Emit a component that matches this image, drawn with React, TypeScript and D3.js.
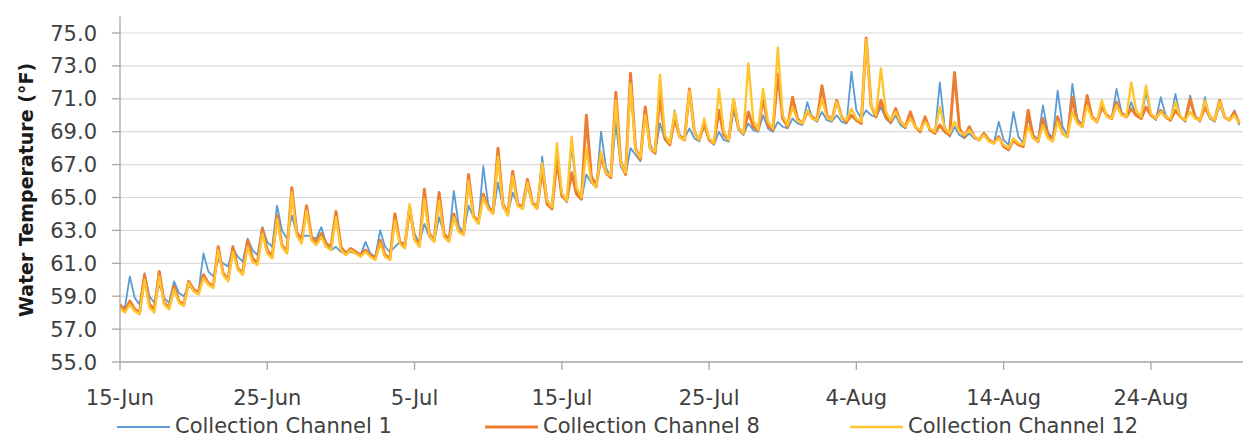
import React from "react";
import * as d3 from "d3";

const START = "2015-06-15";
const END = "2015-08-31";
const STEP_HOURS = 8;

const yTicks = [55, 57, 59, 61, 63, 65, 67, 69, 71, 73, 75];
const xTickDates = ["2015-06-15", "2015-06-25", "2015-07-05", "2015-07-15", "2015-07-25", "2015-08-04", "2015-08-14", "2015-08-24"];
const seriesNames = ["Collection Channel 1", "Collection Channel 8", "Collection Channel 12"];
const yTitle = "Water Temperature (°F)";

// readings every 8 hours from 15-Jun 00:00
const ch1 = [
  58.4, 58.3, 60.2, 58.9, 58.5, 60.4, 59.0, 58.6, 59.7, 58.9, 58.6, 59.9, 59.2, 59.0, 59.6,
  59.4, 59.3, 61.6, 60.5, 60.2, 61.2, 61.0, 60.8, 61.9, 61.4, 61.1, 62.5, 61.8, 61.5, 63.2,
  62.3, 62.0, 64.5, 63.0, 62.5, 63.9, 62.8, 62.6, 62.7, 62.6, 62.5, 63.2, 62.2, 61.8, 62.0,
  61.7, 61.6, 61.7, 61.6, 61.5, 62.3, 61.6, 61.4, 63.0, 62.0, 61.7, 62.0, 62.3, 62.2, 64.5,
  62.8, 62.2, 63.4, 62.6, 62.3, 63.8, 62.8, 62.5, 65.4, 63.3, 62.8, 64.5, 63.8, 63.4, 66.9,
  64.6, 64.0, 65.9, 64.4, 64.0, 65.3, 64.6, 64.3, 65.7, 64.6, 64.3, 67.5, 64.9, 64.3, 67.9,
  65.3, 64.7, 68.2, 65.4, 64.9, 66.4, 65.9, 65.6, 69.0, 66.8, 66.2, 69.5, 66.9, 66.4, 68.0,
  67.6, 67.2, 70.4, 68.2, 67.7, 69.5, 68.5, 68.2, 70.3, 68.8, 68.6, 69.2, 68.6, 68.4, 69.4,
  68.5, 68.2, 69.0, 68.5, 68.4, 70.3, 69.1, 68.8, 69.5, 69.1, 69.0, 70.0, 69.2, 69.0, 69.6,
  69.3, 69.2, 69.8, 69.5, 69.4, 70.8, 69.8, 69.6, 70.2, 69.7, 69.6, 70.0, 69.6, 69.5, 72.65,
  70.3, 69.8, 70.3, 70.0, 69.9, 70.5, 69.8, 69.5, 70.0, 69.4, 69.2, 70.2, 69.3, 69.0, 69.8,
  69.1, 68.9, 72.0, 69.3, 68.7, 69.3, 68.8, 68.6, 68.9, 68.6, 68.5, 68.8, 68.4, 68.3, 69.6,
  68.5, 68.2, 70.2, 68.7, 68.3, 69.8, 68.8, 68.5, 70.6, 69.0, 68.6, 71.5, 69.3, 68.8, 71.9,
  69.8, 69.4, 70.8, 69.9, 69.7, 70.5, 70.0, 69.8, 71.6, 70.2, 69.9, 70.8, 70.0, 69.8, 71.4,
  70.0, 69.7, 71.1, 70.0, 69.7, 71.3, 69.9, 69.6, 71.2, 69.9, 69.6, 71.1, 69.8, 69.6, 70.6,
  69.9, 69.7, 70.3, 69.4,
];
const ch8 = [
  58.5, 58.1, 58.7, 58.2, 58.0, 60.3, 58.5, 58.2, 60.5, 58.6, 58.3, 59.6, 58.7, 58.5, 59.9,
  59.4, 59.2, 60.3, 59.8, 59.6, 62.0, 60.4, 60.0, 62.0, 60.7, 60.4, 62.4, 61.3, 61.0, 63.1,
  61.8, 61.4, 63.9, 62.1, 61.7, 65.6, 62.9, 62.4, 64.5, 62.6, 62.3, 62.8, 62.2, 62.0, 64.15,
  62.0, 61.6, 61.9, 61.7, 61.5, 61.8, 61.5, 61.3, 62.4, 61.5, 61.3, 64.0, 62.3, 62.0, 64.4,
  62.5, 62.1, 65.5, 62.8, 62.4, 65.3, 62.8, 62.4, 64.0, 63.0, 62.8, 66.4, 63.9, 63.5, 65.2,
  64.4, 64.1, 68.0, 64.6, 64.0, 66.6, 64.6, 64.4, 66.1, 64.7, 64.4, 66.7, 64.6, 64.3, 67.3,
  65.1, 64.8, 66.5, 65.2, 64.9, 70.0, 66.3, 65.7, 67.5, 66.5, 66.2, 71.4, 67.2, 66.4, 72.55,
  68.0, 67.3, 70.5, 68.0, 67.7, 71.3, 68.6, 68.2, 69.8, 68.7, 68.5, 71.6, 69.0, 68.5, 69.5,
  68.5, 68.3, 70.3, 68.8, 68.5, 70.9, 69.2, 68.9, 70.2, 69.3, 69.1, 71.1, 69.4, 69.1, 72.5,
  69.8, 69.3, 71.1, 69.8, 69.5, 70.2, 69.9, 69.7, 71.8, 70.0, 69.7, 70.9, 69.9, 69.6, 70.0,
  69.7, 69.5, 74.7, 70.6, 69.9, 70.9, 69.9, 69.6, 70.4, 69.6, 69.3, 70.2, 69.3, 69.0, 69.9,
  69.1, 68.9, 69.4, 69.0, 68.8, 72.6, 69.2, 68.7, 69.3, 68.7, 68.5, 68.9, 68.5, 68.3, 68.7,
  68.1, 67.9, 68.5, 68.2, 68.1, 70.3, 68.7, 68.4, 69.8, 68.8, 68.5, 69.9, 68.9, 68.7, 71.1,
  69.6, 69.3, 71.2, 69.9, 69.6, 70.5, 70.0, 69.8, 70.8, 70.1, 69.9, 70.4, 70.0, 69.8, 70.5,
  70.0, 69.8, 70.3, 69.9, 69.7, 70.3, 69.9, 69.7, 71.0, 69.9, 69.7, 70.5, 69.9, 69.7, 70.9,
  69.9, 69.7, 70.2, 69.5,
];
const ch12 = [
  58.3, 58.0, 58.5, 58.1, 57.9, 60.0, 58.3, 58.0, 60.2, 58.5, 58.2, 59.4, 58.6, 58.4, 59.8,
  59.3, 59.1, 60.1, 59.7, 59.5, 61.8, 60.3, 59.9, 61.7, 60.6, 60.3, 62.0, 61.1, 60.9, 62.8,
  61.6, 61.3, 63.7, 62.0, 61.6, 65.3, 62.7, 62.2, 64.2, 62.4, 62.1, 62.6, 62.0, 61.8, 63.8,
  61.8, 61.5, 61.8, 61.6, 61.4, 61.7, 61.4, 61.2, 62.2, 61.4, 61.2, 63.6, 62.2, 61.9, 64.6,
  62.4, 62.0, 64.9, 62.7, 62.3, 64.8, 62.6, 62.3, 63.8, 62.9, 62.7, 66.0, 63.8, 63.4, 65.0,
  64.3, 64.0, 67.5, 64.5, 63.9, 66.3, 64.5, 64.3, 65.9, 64.6, 64.3, 67.1, 64.8, 64.4, 68.3,
  65.3, 64.8, 68.7, 65.6, 65.0, 68.0, 66.0, 65.6, 67.8, 66.5, 66.3, 70.9, 67.1, 66.5, 71.9,
  67.9, 67.4, 70.0, 68.0, 67.8, 72.45, 68.8, 68.3, 70.2, 68.7, 68.5, 71.5, 69.0, 68.5, 69.8,
  68.6, 68.3, 71.6, 69.0, 68.5, 71.0, 69.2, 68.9, 73.15, 69.7, 69.1, 71.6, 69.6, 69.2, 74.1,
  70.0, 69.4, 70.5, 69.7, 69.5, 70.3, 69.8, 69.7, 71.0, 69.9, 69.7, 70.8, 69.9, 69.7, 70.4,
  69.8, 69.6, 74.6, 70.6, 70.0, 72.85, 70.2, 69.7, 70.2, 69.6, 69.3, 69.8, 69.3, 69.1, 69.6,
  69.2, 69.0, 70.5, 69.2, 68.9, 69.6, 69.0, 68.8, 69.1, 68.7, 68.5, 68.8, 68.4, 68.3, 68.6,
  68.2, 68.0, 68.6, 68.3, 68.2, 69.3, 68.6, 68.4, 69.4, 68.6, 68.4, 69.6, 68.9, 68.7, 70.2,
  69.5, 69.3, 70.6, 69.8, 69.6, 70.9, 69.9, 69.8, 70.6, 70.0, 69.9, 72.0, 70.3, 69.9, 71.8,
  70.1, 69.8, 70.2, 69.9, 69.8, 70.8, 69.9, 69.7, 70.2, 69.8, 69.7, 70.9, 69.9, 69.7, 70.8,
  69.9, 69.7, 70.0, 69.5,
];

const seriesValues = [ch1, ch8, ch12];
const seriesColors = ["#5B9BD5", "#ED7D31", "#FFC42E"];
const seriesWidths = [1.8, 3, 2.4];

const W = 1243;
const H = 438;
const FONT = "'DejaVu Sans', Verdana, sans-serif";

export default function App() {
  const parse = d3.timeParse("%Y-%m-%d");
  const t0 = parse(START) as Date;
  const t1 = parse(END) as Date;
  const x = d3.scaleTime().domain([t0, t1]).range([120, 1254]);
  const y = d3.scaleLinear().domain([55, 76]).range([362, 16.55]);
  const plotRight = W;
  const fmt = d3.timeFormat("%-d-%b");

  const line = d3
    .line<number>()
    .x((_, i) => x(d3.timeHour.offset(t0, i * STEP_HOURS)))
    .y((v) => y(v))
    .curve(d3.curveLinear);

  const legendX = [117, 485, 850];

  return (
    <svg width={W} height={H} style={{ position: "absolute", left: 0, top: 0, background: "#fff" }}>
      <defs>
        <clipPath id="plot">
          <rect x={120} y={0} width={plotRight - 120} height={362} />
        </clipPath>
      </defs>
      {yTicks.slice(1).map((t) => (
        <line key={t} x1={120} x2={plotRight} y1={y(t)} y2={y(t)} stroke="#D9D9D9" strokeWidth={1.2} />
      ))}
      <g clipPath="url(#plot)">
        {seriesValues.map((vals, k) => (
          <path
            key={k}
            d={line(vals) || ""}
            fill="none"
            stroke={seriesColors[k]}
            strokeWidth={seriesWidths[k]}
            strokeLinejoin="round"
          />
        ))}
      </g>
      <line x1={120} x2={120} y1={y(76)} y2={362} stroke="#A6A6A6" strokeWidth={1.3} />
      <line x1={120} x2={plotRight} y1={362} y2={362} stroke="#A6A6A6" strokeWidth={1.3} />
      {yTicks.map((t) => (
        <g key={t}>
          <line x1={112} x2={120} y1={y(t)} y2={y(t)} stroke="#A6A6A6" strokeWidth={1.3} />
          <text
            x={97}
            y={y(t)}
            dy="0.36em"
            textAnchor="end"
            fontFamily={FONT}
            fontSize={21}
            fill="#404040"
          >
            {d3.format(".1f")(t)}
          </text>
        </g>
      ))}
      {xTickDates.map((s) => {
        const d = parse(s) as Date;
        const xx = x(d);
        return (
          <g key={s}>
            <line x1={xx} x2={xx} y1={362} y2={370} stroke="#A6A6A6" strokeWidth={1.3} />
            <text x={xx} y={405} textAnchor="middle" fontFamily={FONT} fontSize={21} fill="#404040">
              {fmt(d)}
            </text>
          </g>
        );
      })}
      <text
        transform={`translate(33,190) rotate(-90)`}
        textAnchor="middle"
        fontFamily={FONT}
        fontSize={19}
        fontWeight="bold"
        fill="#1a1a1a"
      >
        {yTitle}
      </text>
      {seriesNames.map((n, k) => (
        <g key={n}>
          <line
            x1={legendX[k]}
            x2={legendX[k] + 53}
            y1={427}
            y2={427}
            stroke={seriesColors[k]}
            strokeWidth={seriesWidths[k]}
          />
          <text x={legendX[k] + 58} y={433} fontFamily={FONT} fontSize={21} fill="#404040">
            {n}
          </text>
        </g>
      ))}
    </svg>
  );
}
